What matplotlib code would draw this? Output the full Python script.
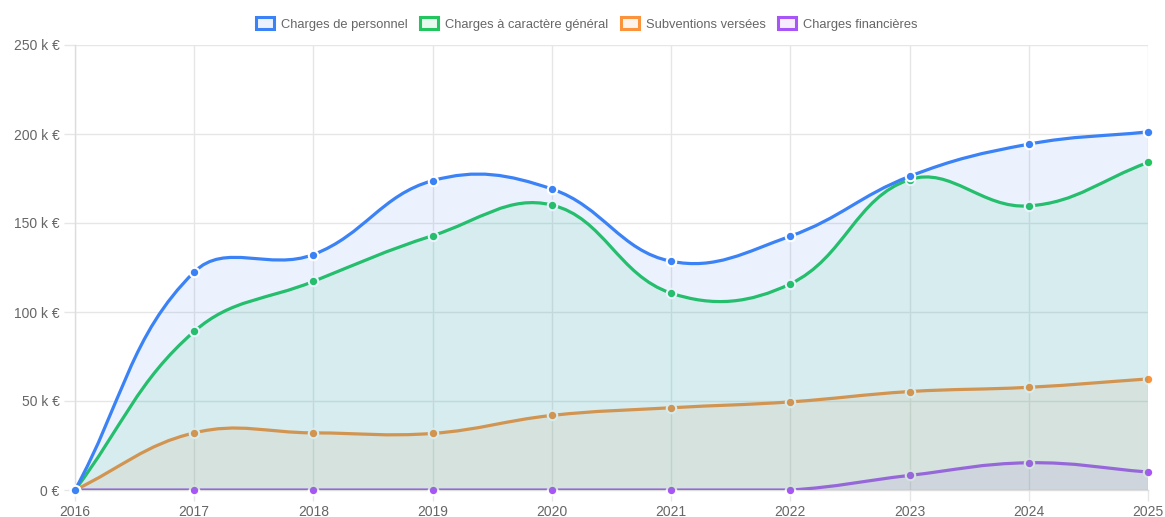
import numpy as np
import matplotlib
matplotlib.use("Agg")
import matplotlib.pyplot as plt
from matplotlib.path import Path
from matplotlib.patches import PathPatch, Patch

# ---- data (k€) ----
years = [2016, 2017, 2018, 2019, 2020, 2021, 2022, 2023, 2024, 2025]
personnel = [0, 122.5, 132.3, 173.8, 169.1, 128.5, 142.6, 176.2, 194.3, 201.2]
general = [0, 89.1, 117.2, 142.9, 160.1, 110.6, 115.8, 174.4, 159.6, 184.0]
subventions = [0, 32.1, 32.1, 31.8, 41.9, 46.2, 49.5, 55.3, 57.7, 62.4]
financieres = [0, 0, 0, 0, 0, 0, 0, 8.2, 15.3, 10.1]
series_labels = ["Charges de personnel", "Charges à caractère général",
                 "Subventions versées", "Charges financières"]
series_colors = ["#3b82f6", "#22c55e", "#fb923c", "#a855f7"]
y_ticks = [0, 50, 100, 150, 200, 250]
y_tick_labels = ["0 €", "50 k €", "100 k €", "150 k €", "200 k €", "250 k €"]

plt.rcParams['font.family'] = ['Liberation Sans', 'DejaVu Sans']

W, H = 1165, 517
fig = plt.figure(figsize=(W / 100, H / 100), dpi=100)
left, right, top, bottom = 75, 1148, 45, 490
ax = fig.add_axes([left / W, (H - bottom) / H, (right - left) / W, (bottom - top) / H])
ax.set_xlim(years[0], years[-1])
ax.set_ylim(0, 250)

grid_c = "#e6e6e6"
ax.set_yticks(y_ticks)
ax.set_yticklabels(y_tick_labels)
ax.set_xticks(years)
ax.set_xticklabels([str(y) for y in years])
ax.grid(True, color=grid_c, linewidth=1)
ax.set_axisbelow(True)
ax.tick_params(axis='both', colors=grid_c, labelcolor="#666666", labelsize=10,
               length=8, width=1, pad=3)
for s in ["top", "right"]:
    ax.spines[s].set_visible(False)
for s in ["left", "bottom"]:
    ax.spines[s].set_color("#dddddd")
    ax.spines[s].set_linewidth(1)


def spline_path(xs, ys, tension=0.4):
    pts = ax.transData.transform(np.column_stack([xs, ys]).astype(float))
    n = len(pts)
    cprev = pts.copy()
    cnext = pts.copy()
    x0, y0 = ax.transData.transform((years[0], 0))
    x1, y1 = ax.transData.transform((years[-1], 250))
    for i in range(n):
        cur = pts[i]
        prv = pts[i - 1] if i > 0 else pts[0]
        nxt = pts[i + 1] if i < n - 1 else pts[n - 1]
        d01 = np.hypot(*(cur - prv))
        d12 = np.hypot(*(nxt - cur))
        tot = d01 + d12
        s01 = d01 / tot if tot else 0
        s12 = d12 / tot if tot else 0
        fa = tension * s01
        fb = tension * s12
        cprev[i] = cur - fa * (nxt - prv)
        cnext[i] = cur + fb * (nxt - prv)
    # cap inside chart area
    for arr in (cprev, cnext):
        arr[:, 0] = np.clip(arr[:, 0], x0, x1)
        arr[:, 1] = np.clip(arr[:, 1], y0, y1)
    verts = [pts[0]]
    codes = [Path.MOVETO]
    for i in range(n - 1):
        verts += [cnext[i], cprev[i + 1], pts[i + 1]]
        codes += [Path.CURVE4] * 3
    inv = ax.transData.inverted()
    verts = inv.transform(np.array(verts))
    return verts, codes


all_series = [personnel, general, subventions, financieres]
# draw in reverse order (first dataset on top), like Chart.js
for idx in range(len(all_series) - 1, -1, -1):
    vals = all_series[idx]
    col = series_colors[idx]
    z = 2 + (len(all_series) - 1 - idx) * 3
    verts, codes = spline_path(years, vals)
    # fill to origin
    fverts = list(verts) + [(years[-1], 0), (years[0], 0), verts[0]]
    fcodes = list(codes) + [Path.LINETO, Path.LINETO, Path.CLOSEPOLY]
    ax.add_patch(PathPatch(Path(fverts, fcodes), facecolor=col, alpha=0.1,
                           edgecolor='none', zorder=z))
    ax.add_patch(PathPatch(Path(verts, codes), facecolor='none', edgecolor=col,
                           linewidth=2.3, zorder=z + 1, capstyle='round',
                           joinstyle='round'))
    ax.plot(years, vals, linestyle='none', marker='o', markersize=6.8,
            markerfacecolor=col, markeredgecolor='white', markeredgewidth=1.5,
            zorder=z + 2, clip_on=False)

handles = [Patch(facecolor=matplotlib.colors.to_rgba(c, 0.1), edgecolor=c, linewidth=2.2,
                 label=l) for c, l in zip(series_colors, series_labels)]
leg = fig.legend(handles=handles, loc='center', bbox_to_anchor=(587 / W, 1 - 24 / H),
                 ncol=4, frameon=False, fontsize=9.3, handlelength=1.4, handleheight=1.0,
                 handletextpad=0.55, columnspacing=0.95, labelcolor="#666666")

fig.savefig("out.png", dpi=100)
